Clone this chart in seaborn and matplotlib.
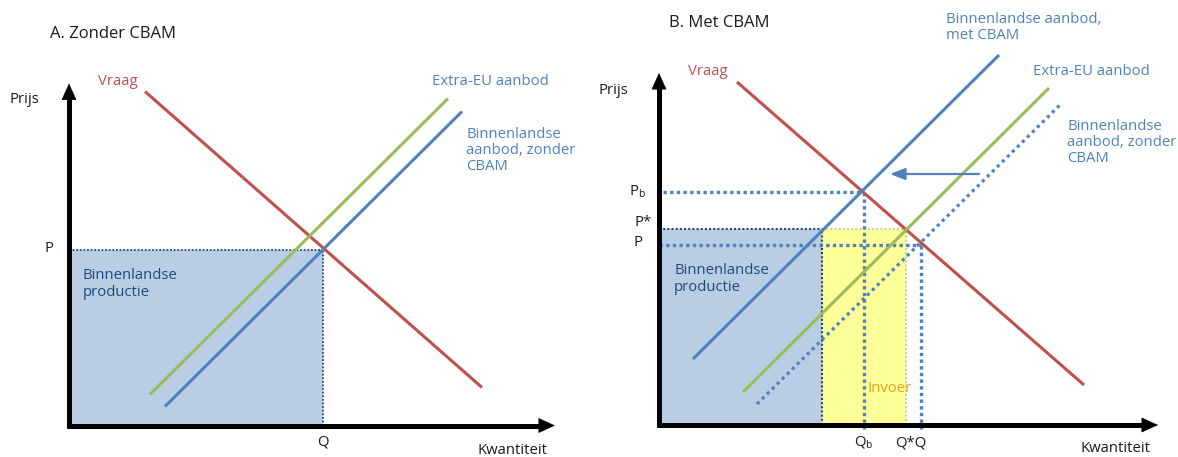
import matplotlib
matplotlib.use("Agg")
import matplotlib.pyplot as plt
import seaborn as sns

# --- panel A: without CBAM (quantity, price in diagram units) ---
a_demand_q = [76, 413]
a_demand_p = [334, 38]
a_import_q = [81, 379]
a_import_p = [31, 327]
a_dom_q = [96, 393]
a_dom_p = [19, 314]
a_Q, a_P = 254, 176

# --- panel B: with CBAM ---
b_demand_q = [78, 425]
b_demand_p = [343, 40]
b_dom_cbam_q = [34, 340]
b_dom_cbam_p = [66, 370]
b_import_q = [84, 390]
b_import_p = [33, 337]
b_dom_q = [98, 403]
b_dom_p = [21, 322]
b_Pb, b_Qb = 233, 205
b_Pstar, b_Qstar, b_Qd = 196, 247, 163
b_P, b_Q = 180, 262
b_shift_q = [320, 231]
b_shift_p = 251

RED = "#C0504D"
GREEN = "#9BBB59"
BLUE = "#4F81BD"
NAVY = "#1F497D"
FILL_BLUE = "#B9CDE5"
FILL_YELLOW = "#FFFF99"
OLIVE = "#C3D69B"
ORANGE = "#E3A21A"
TXT = "#1a1a1a"

sns.set_theme(style="white")
plt.rcParams["font.family"] = ["Open Sans", "DejaVu Sans"]
FS = 10.7

fig = plt.figure(figsize=(11.78, 4.57), dpi=100)
axA = fig.add_axes([0, 0, 0.5, 1])
axB = fig.add_axes([0.5, 0, 0.5, 1])
axA.set_xlim(-69, 520)
axA.set_ylim(-31.5, 425.5)
axB.set_xlim(-70, 519)
axB.set_ylim(-32, 425)


def draw_axes(ax, qmax, pmax):
    ax.plot([0, 0], [-2, pmax - 12], color="black", lw=3.6, solid_capstyle="butt", zorder=6)
    ax.plot([-2.5, qmax - 12], [0, 0], color="black", lw=3.6, solid_capstyle="butt", zorder=6)
    head = dict(arrowstyle="-|>,head_length=1.1,head_width=0.5", mutation_scale=10,
                lw=0.5, color="black", shrinkA=0, shrinkB=0)
    ax.annotate("", xy=(0, pmax), xytext=(0, pmax - 14), arrowprops=head, zorder=7)
    ax.annotate("", xy=(qmax, 0), xytext=(qmax - 14, 0), arrowprops=head, zorder=7)
    ax.axis("off")


def curve(ax, q, p, color, **kw):
    sns.lineplot(x=q, y=p, ax=ax, color=color, lw=2.2, sort=False, legend=False,
                 solid_capstyle="butt", zorder=4, **kw)


# ---------------- panel A ----------------
axA.fill_between([0, a_Q], 0, a_P, color=FILL_BLUE, lw=0, zorder=1)
axA.plot([0, a_Q], [a_P, a_P], color=NAVY, lw=1.3, ls=(0, (1, 1)), zorder=3)
axA.plot([a_Q, a_Q], [0, a_P], color=NAVY, lw=1.3, ls=(0, (1, 1)), zorder=3)
curve(axA, a_demand_q, a_demand_p, RED)
curve(axA, a_import_q, a_import_p, GREEN)
curve(axA, a_dom_q, a_dom_p, BLUE)
draw_axes(axA, 486, 342)

axA.text(-19, 392, "A. Zonder CBAM", fontsize=12, color=TXT, va="center")
axA.text(-59.5, 326, "Prijs", fontsize=FS, color=TXT, va="center")
axA.text(-20, 177.5, "P", fontsize=FS, color=TXT, va="center", ha="center")
axA.text(a_Q, -16, "Q", fontsize=FS, color=TXT, va="center", ha="center")
axA.text(443.5, -25.5, "Kwantiteit", fontsize=FS, color=TXT, va="center", ha="center")
axA.text(48.7, 344, "Vraag", fontsize=FS, color=RED, va="center", ha="center")
axA.text(363, 344, "Extra-EU aanbod", fontsize=FS, color=BLUE, va="center")
axA.text(397.5, 275, "Binnenlandse\naanbod, zonder\nCBAM", fontsize=FS, color=BLUE,
         va="center", linespacing=1.1)
axA.text(14, 141.5, "Binnenlandse\nproductie", fontsize=FS, color=NAVY, va="center",
         linespacing=1.15)

# ---------------- panel B ----------------
axB.fill_between([0, b_Qd], 0, b_Pstar, color=FILL_BLUE, lw=0, zorder=1)
axB.fill_between([b_Qd, b_Qstar], 0, b_Pstar, color=FILL_YELLOW, lw=0, zorder=1)
axB.plot([0, b_Qd], [b_Pstar, b_Pstar], color=NAVY, lw=1.5, ls=(0, (1, 1)), zorder=3)
axB.plot([b_Qd, b_Qd], [0, b_Pstar], color=NAVY, lw=1.5, ls=(0, (1, 1)), zorder=3)
axB.plot([b_Qd, b_Qstar], [b_Pstar, b_Pstar], color=OLIVE, lw=1.5, ls=(0, (1, 1)), zorder=3)
axB.plot([b_Qstar, b_Qstar], [0, b_Pstar], color=OLIVE, lw=1.5, ls=(0, (1, 1)), zorder=3)
axB.plot([4, b_Qb], [b_Pb, b_Pb], color=BLUE, lw=2.4, ls=(0, (1, 1)), zorder=3)
axB.plot([b_Qb, b_Qb], [-4, b_Pb], color=BLUE, lw=2.4, ls=(0, (1, 1)), zorder=3)
axB.plot([0, b_Q], [b_P, b_P], color=BLUE, lw=2.4, ls=(0, (1, 1)), zorder=3)
axB.plot([b_Q, b_Q], [-4, b_P], color=BLUE, lw=2.4, ls=(0, (1, 1)), zorder=3)

curve(axB, b_demand_q, b_demand_p, RED)
curve(axB, b_dom_cbam_q, b_dom_cbam_p, BLUE)
curve(axB, b_import_q, b_import_p, GREEN)
axB.plot(b_dom_q, b_dom_p, color=BLUE, lw=2.3, ls=(0, (1, 1.2)), zorder=4)
axB.annotate("", xy=(b_shift_q[1], b_shift_p), xytext=(b_shift_q[0], b_shift_p),
             arrowprops=dict(arrowstyle="-|>,head_length=0.9,head_width=0.35",
                             mutation_scale=10, lw=1.6, color=BLUE,
                             shrinkA=0, shrinkB=0), zorder=5)
draw_axes(axB, 499, 352)

axB.text(9.7, 402, "B. Met CBAM", fontsize=12, color=TXT, va="center")
axB.text(-61, 335, "Prijs", fontsize=FS, color=TXT, va="center")
axB.text(-22, 233, r"P$_\mathregular{b}$", fontsize=FS, color=TXT, va="center", ha="center")
axB.text(-16, 202, "P*", fontsize=FS, color=TXT, va="center", ha="center")
axB.text(-21, 182, "P", fontsize=FS, color=TXT, va="center", ha="center")
axB.text(b_Qb, -18, r"Q$_\mathregular{b}$", fontsize=FS, color=TXT, va="center", ha="center")
axB.text(252, -18, "Q*Q", fontsize=FS, color=TXT, va="center", ha="center")
axB.text(456, -24, "Kwantiteit", fontsize=FS, color=TXT, va="center", ha="center")
axB.text(49.3, 353.5, "Vraag", fontsize=FS, color=RED, va="center", ha="center")
axB.text(286.7, 397.5, "Binnenlandse aanbod,\nmet CBAM", fontsize=FS, color=BLUE,
         va="center", linespacing=1.1)
axB.text(373.7, 353.5, "Extra-EU aanbod", fontsize=FS, color=BLUE, va="center")
axB.text(408.3, 282.5, "Binnenlandse\naanbod, zonder\nCBAM", fontsize=FS, color=BLUE,
         va="center", linespacing=1.1)
axB.text(15, 146, "Binnenlandse\nproductie", fontsize=FS, color=NAVY, va="center",
         linespacing=1.15)
axB.text(208.7, 36, "Invoer", fontsize=FS, color=ORANGE, va="center")

fig.savefig("out.png", dpi=100)
